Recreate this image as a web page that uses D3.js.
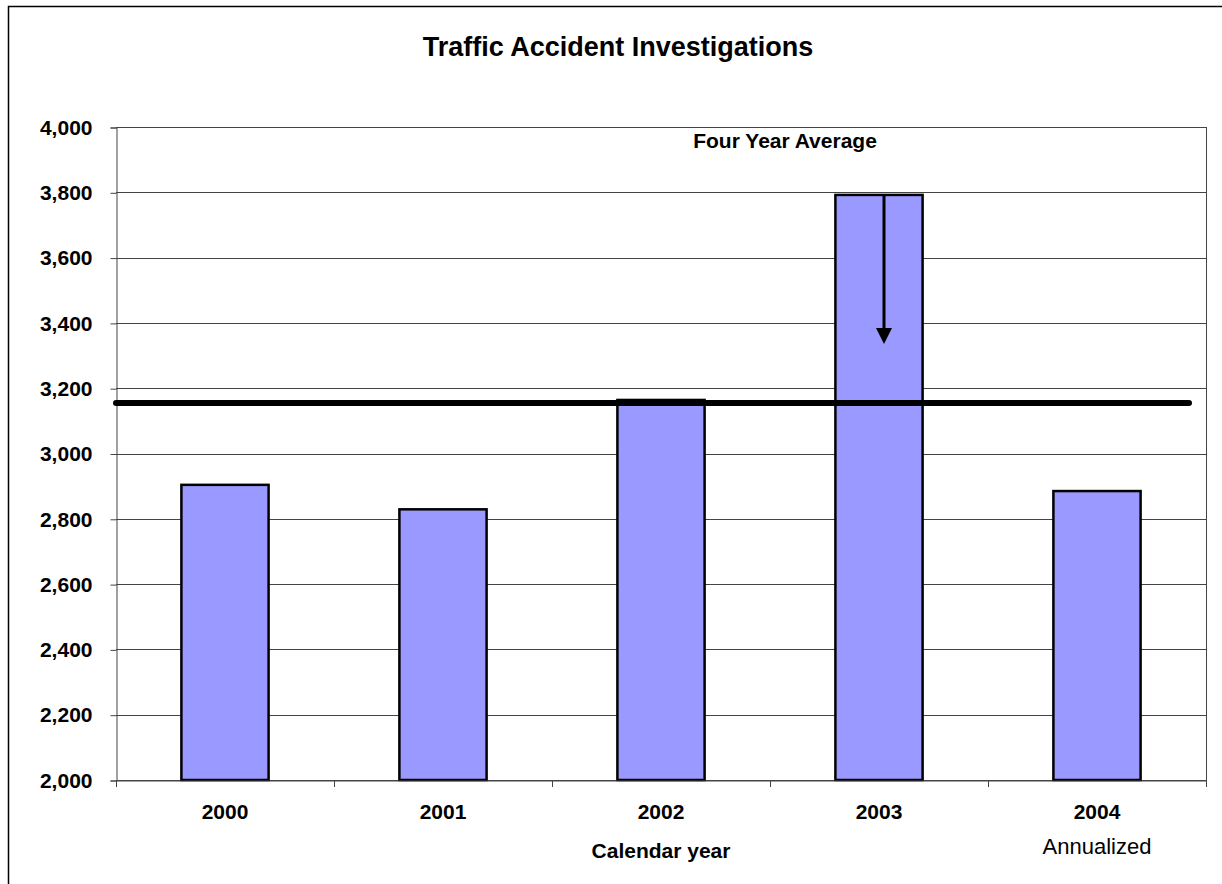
<!DOCTYPE html>
<html>
<head>
<meta charset="utf-8">
<script src="https://cdn.jsdelivr.net/npm/d3@7"></script>
<style>
  body { margin: 0; background: #fff; }
  svg text { font-family: Arial, "Liberation Sans", sans-serif; fill: #000; }
</style>
</head>
<body>
<div id="chart"></div>
<script>
  var years = ["2000", "2001", "2002", "2003", "2004"];
  var accidents = [2904, 2829, 3164, 3792, 2885];
  var yTicks = [2000, 2200, 2400, 2600, 2800, 3000, 3200, 3400, 3600, 3800, 4000];
  var fourYearAvg = 3155;
  var arrowFrom = 3790, arrowTo = 3335;   // arrow drawn inside the 2003 bar

  var width = 1222, height = 884;
  var plotLeft = 116, plotRight = 1206, plotTop = 127, plotBottom = 780;

  var svg = d3.select("#chart").append("svg")
      .attr("width", width)
      .attr("height", height);

  // outer frame (only top and left edges are inside the picture)
  svg.append("rect")
    .attr("x", 8.5).attr("y", 6.5)
    .attr("width", 1230).attr("height", 900)
    .attr("fill", "none").attr("stroke", "#000").attr("stroke-width", 1.5);

  var x = d3.scaleBand().domain(years).range([plotLeft, plotRight]).paddingInner(0.6).paddingOuter(0.3);
  var xCat = d3.scaleBand().domain(years).range([plotLeft, plotRight]);
  var y = d3.scaleLinear().domain([2000, 4000]).range([plotBottom, plotTop]);

  // gridlines
  svg.append("g").selectAll("line")
    .data(yTicks)
    .enter().append("line")
    .attr("x1", plotLeft).attr("x2", plotRight)
    .attr("y1", function(d) { return Math.round(y(d)) + 0.5; })
    .attr("y2", function(d) { return Math.round(y(d)) + 0.5; })
    .attr("stroke", "#444").attr("stroke-width", 1);

  // y axis
  var yAxis = svg.append("g")
    .attr("transform", "translate(" + (plotLeft + 0.5) + ",0.5)")
    .call(d3.axisLeft(y).tickValues(yTicks).tickSize(6).tickPadding(18).tickFormat(d3.format(",")));
  yAxis.select(".domain").attr("stroke", "#444");
  yAxis.selectAll(".tick line").attr("stroke", "#444");
  yAxis.selectAll("text")
    .style("font-size", "21px").style("font-weight", "bold");

  // right border of plot area
  svg.append("line")
    .attr("x1", plotRight + 0.5).attr("x2", plotRight + 0.5)
    .attr("y1", plotTop).attr("y2", plotBottom)
    .attr("stroke", "#444");

  // bars
  svg.append("g").selectAll("rect")
    .data(accidents)
    .enter().append("rect")
    .attr("x", function(d, i) { return x(years[i]); })
    .attr("width", x.bandwidth())
    .attr("y", function(d) { return y(d); })
    .attr("height", function(d) { return y(2000) - y(d); })
    .attr("fill", "#9999ff")
    .attr("stroke", "#000").attr("stroke-width", 2.5);

  // x axis
  var xAxis = svg.append("g")
    .attr("transform", "translate(0," + (plotBottom + 0.5) + ")")
    .call(d3.axisBottom(xCat).tickSize(0).tickPadding(24));
  xAxis.select(".domain").attr("stroke", "#444");
  xAxis.selectAll("text")
    .style("font-size", "21px").style("font-weight", "bold");

  // category separators
  svg.append("g").selectAll("line")
    .data(years.concat(["end"]))
    .enter().append("line")
    .attr("x1", function(d, i) { return (i < years.length ? xCat(d) : plotRight) + 0.5; })
    .attr("x2", function(d, i) { return (i < years.length ? xCat(d) : plotRight) + 0.5; })
    .attr("y1", plotBottom).attr("y2", plotBottom + 7)
    .attr("stroke", "#444");

  // four year average line
  svg.append("line")
    .attr("x1", plotLeft).attr("x2", 1189)
    .attr("y1", y(fourYearAvg)).attr("y2", y(fourYearAvg))
    .attr("stroke", "#000").attr("stroke-width", 6)
    .attr("stroke-linecap", "round");

  // arrow (sits a little right of the bar centre)
  var ax = xCat("2003") + xCat.bandwidth() / 2 + 5;
  svg.append("line")
    .attr("x1", ax).attr("x2", ax)
    .attr("y1", y(arrowFrom)).attr("y2", y(arrowTo) - 14)
    .attr("stroke", "#000").attr("stroke-width", 3);
  svg.append("path")
    .attr("d", "M" + (ax - 8) + "," + (y(arrowTo) - 16) + "L" + (ax + 8) + "," + (y(arrowTo) - 16) + "L" + ax + "," + y(arrowTo) + "Z")
    .attr("fill", "#000");

  // texts
  svg.append("text")
    .attr("x", 618).attr("y", 56)
    .attr("text-anchor", "middle")
    .style("font-size", "27px").style("font-weight", "bold")
    .text("Traffic Accident Investigations");

  svg.append("text")
    .attr("x", 785).attr("y", 148)
    .attr("text-anchor", "middle")
    .style("font-size", "21px").style("font-weight", "bold")
    .text("Four Year Average");

  svg.append("text")
    .attr("x", xCat("2002") + xCat.bandwidth() / 2).attr("y", 858)
    .attr("text-anchor", "middle")
    .style("font-size", "21px").style("font-weight", "bold")
    .text("Calendar year");

  svg.append("text")
    .attr("x", xCat("2004") + xCat.bandwidth() / 2).attr("y", 854)
    .attr("text-anchor", "middle")
    .style("font-size", "22px")
    .text("Annualized");
</script>
</body>
</html>
